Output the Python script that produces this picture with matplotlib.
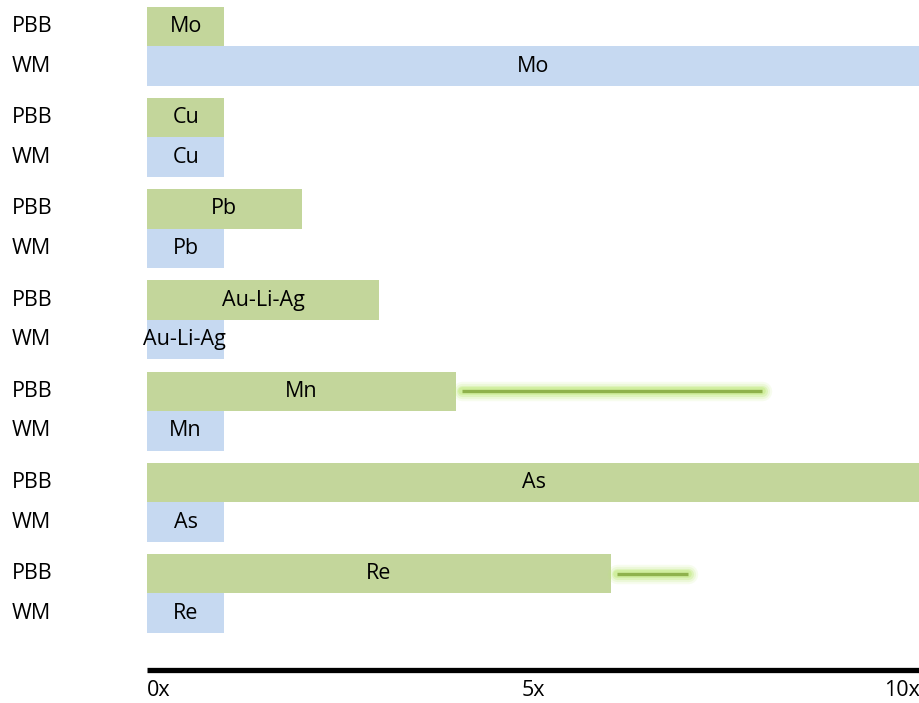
import matplotlib
matplotlib.use("Agg")
import matplotlib.pyplot as plt
import matplotlib.transforms as mtransforms
import matplotlib.patheffects as pe

plt.rcParams['font.family'] = ['Open Sans', 'DejaVu Sans']

elements = ["Mo", "Cu", "Pb", "Au-Li-Ag", "Mn", "As", "Re"]
pbb_values = [1.0, 1.0, 2.0, 3.0, 4.0, 10.0, 6.0]
wm_values = [10.0, 1.0, 1.0, 1.0, 1.0, 1.0, 1.0]
# upper end of the PBB range whisker (None where no whisker is drawn)
pbb_upper = [None, None, None, None, 7.95, None, 7.0]
series_names = ["PBB", "WM"]
tick_values = [0, 5, 10]
tick_labels = ["0x", "5x", "10x"]

PBB_COLOR = "#c3d69b"
WM_COLOR = "#c6d9f1"
WHISKER_COLOR = "#8fb24c"
GLOW_COLOR = "#bfea7a"

W, H = 920, 703
fig = plt.figure(figsize=(W / 100, H / 100), dpi=100)
ax_left, ax_bottom = 147 / W, (H - 670) / H
ax = fig.add_axes([ax_left, ax_bottom, 1 - ax_left, 1 - ax_bottom])

pitch = 91.2
bar_h = 39.5
first_center = 26.5

ax.set_xlim(0, 10)
ax.set_ylim(670, 0)

label_trans = mtransforms.blended_transform_factory(fig.transFigure, ax.transData)
fs = 15.5

glow = [pe.Stroke(linewidth=w, foreground=GLOW_COLOR, alpha=a, capstyle="round")
        for w, a in ((14, 0.12), (11, 0.18), (8, 0.3), (5.5, 0.45))]
glow.append(pe.Normal())

for g, name in enumerate(elements):
    yc_pbb = first_center + g * pitch
    yc_wm = yc_pbb + bar_h
    for yc, val, col, sname in ((yc_pbb, pbb_values[g], PBB_COLOR, series_names[0]),
                                (yc_wm, wm_values[g], WM_COLOR, series_names[1])):
        ax.barh(yc, val, height=bar_h, color=col, edgecolor="none", zorder=2)
        ax.text(12 / W, yc, sname, transform=label_trans, ha="left",
                va="center", fontsize=fs, color="black")
        if len(name) > 2 and val <= 1.0:
            ax.text(-0.05, yc, name, ha="left", va="center", fontsize=fs,
                    color="black", zorder=4)
        else:
            ax.text(val / 2, yc, name, ha="center", va="center", fontsize=fs,
                    color="black", zorder=4)
    if pbb_upper[g] is not None:
        ax.plot([pbb_values[g] + 0.08, pbb_upper[g]], [yc_pbb, yc_pbb],
                color=WHISKER_COLOR, lw=2.4, solid_capstyle="butt", zorder=3,
                path_effects=glow)

for s in ("top", "right", "left"):
    ax.spines[s].set_visible(False)
ax.spines["bottom"].set_linewidth(3.8)
ax.spines["bottom"].set_color("black")
ax.spines["bottom"].set_capstyle("butt")
ax.set_yticks([])
ax.set_xticks(tick_values)
ax.tick_params(axis="x", length=0, pad=7, labelsize=fs)
ax.set_xticklabels(tick_labels)
tls = ax.get_xticklabels()
tls[0].set_ha("left")
tls[-1].set_ha("right")
ax.patch.set_visible(False)

fig.savefig("out.png", dpi=100)
